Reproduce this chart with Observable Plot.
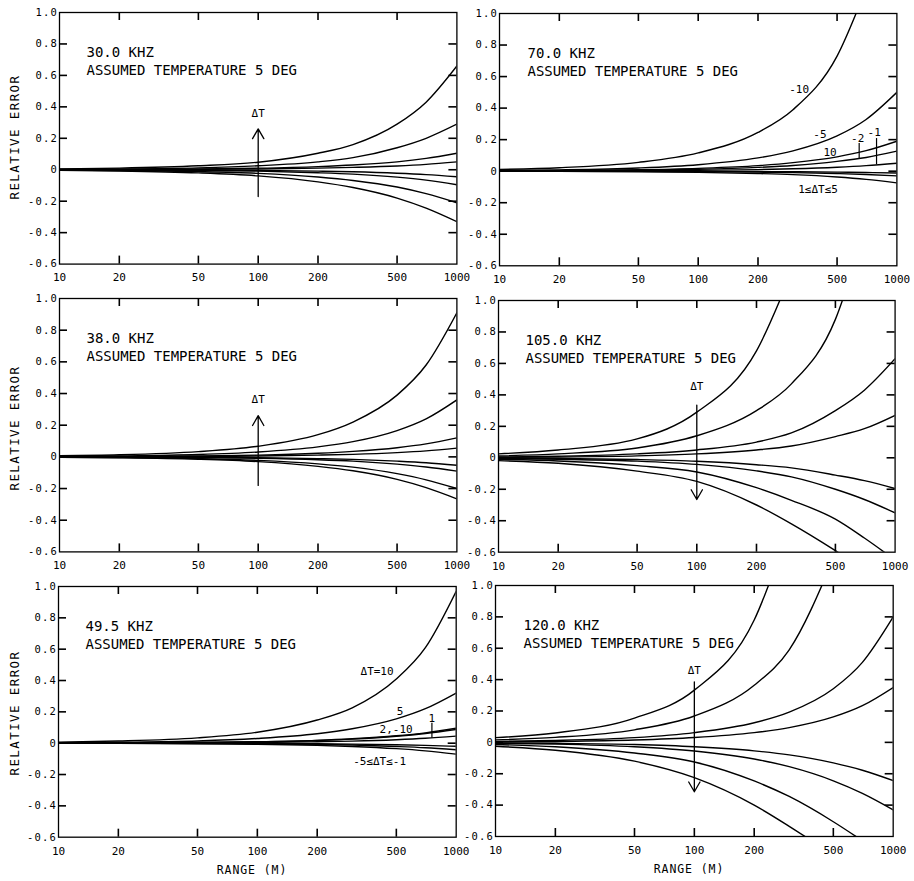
<!DOCTYPE html>
<html><head><meta charset="utf-8">
<script src="https://cdn.jsdelivr.net/npm/d3@7"></script>
<script src="https://cdn.jsdelivr.net/npm/@observablehq/plot@0.6"></script>
<style>
body{margin:0;background:#fff;}
#chart{position:relative;width:914px;height:881px;background:#fff;font-family:"DejaVu Sans Mono",monospace;color:#000;overflow:hidden;}
#chart svg{position:absolute;overflow:visible;}
g[aria-label="y-axis tick label"] text{letter-spacing:1.2px;}
g[aria-label="x label"] text{letter-spacing:0.8px;}
g[aria-label="title"] text{letter-spacing:0.8px;}
g[aria-label="note"] text{letter-spacing:0.3px;}
.lab{position:absolute;white-space:nowrap;transform:translate(-50%,-50%);}
.ylab{font-size:12.5px;letter-spacing:1.4px;transform:translate(-50%,-50%) rotate(-90deg);}
.xlab{font-size:11.5px;letter-spacing:0.9px;}
</style></head><body><div id="chart"></div>
<script>
// ---- shared axis values ----
const ranges = [10, 20, 50, 100, 200, 300, 500, 700, 1000];
const xTicks = [10, 20, 50, 100, 200, 500, 1000];
const yTicks = [-0.6, -0.4, -0.2, 0, 0.2, 0.4, 0.6, 0.8, 1.0];
const subtitle = "ASSUMED TEMPERATURE 5 DEG";
const yTitle = "RELATIVE ERROR";
const xTitle = "RANGE (M)";

// ---- 30.0 kHz ----
const dT30 = [10, 5, 2, 1, -1, -2, -5, -10];
const err30 = [
  [0.005, 0.01, 0.025, 0.048, 0.105, 0.16, 0.29, 0.43, 0.66],
  [0.003, 0.005, 0.012, 0.025, 0.05, 0.077, 0.14, 0.2, 0.29],
  [0.001, 0.002, 0.005, 0.01, 0.02, 0.03, 0.05, 0.072, 0.105],
  [0.0005, 0.001, 0.0025, 0.005, 0.01, 0.015, 0.024, 0.034, 0.05],
  [-0.0005, -0.001, -0.002, -0.0045, -0.009, -0.013, -0.022, -0.031, -0.045],
  [-0.001, -0.002, -0.005, -0.009, -0.019, -0.028, -0.047, -0.066, -0.095],
  [-0.002, -0.005, -0.012, -0.023, -0.046, -0.068, -0.11, -0.152, -0.21],
  [-0.004, -0.008, -0.02, -0.039, -0.077, -0.113, -0.18, -0.244, -0.33]
];
// ---- 38.0 kHz ----
const dT38 = [10, 5, 2, 1, -1, -2, -5, -10];
const err38 = [
  [0.007, 0.013, 0.033, 0.067, 0.14, 0.22, 0.39, 0.58, 0.91],
  [0.003, 0.006, 0.015, 0.031, 0.063, 0.096, 0.166, 0.24, 0.36],
  [0.001, 0.002, 0.006, 0.011, 0.023, 0.035, 0.058, 0.082, 0.12],
  [0.0005, 0.001, 0.003, 0.0055, 0.011, 0.016, 0.027, 0.038, 0.055],
  [-0.0005, -0.001, -0.003, -0.005, -0.011, -0.016, -0.027, -0.037, -0.053],
  [-0.001, -0.002, -0.005, -0.009, -0.018, -0.027, -0.046, -0.064, -0.09],
  [-0.002, -0.004, -0.011, -0.022, -0.044, -0.065, -0.106, -0.145, -0.2],
  [-0.003, -0.006, -0.015, -0.03, -0.06, -0.088, -0.142, -0.194, -0.265]
];
// ---- 49.5 kHz ----
const dT49 = [10, 5, 2, -10, 1, -1, -2, -5];
const err49 = [
  [0.007, 0.014, 0.034, 0.07, 0.148, 0.226, 0.41, 0.61, 0.97],
  [0.003, 0.006, 0.014, 0.03, 0.06, 0.092, 0.155, 0.22, 0.32],
  [0.001, 0.002, 0.005, 0.009, 0.018, 0.028, 0.047, 0.066, 0.095],
  [0.001, 0.002, 0.004, 0.008, 0.017, 0.026, 0.044, 0.062, 0.088],
  [0.0005, 0.001, 0.002, 0.004, 0.009, 0.013, 0.022, 0.031, 0.045],
  [-0.0002, -0.0004, -0.001, -0.002, -0.004, -0.006, -0.01, -0.014, -0.02],
  [-0.0004, -0.001, -0.002, -0.004, -0.008, -0.012, -0.021, -0.029, -0.042],
  [-0.001, -0.0015, -0.0035, -0.007, -0.014, -0.021, -0.035, -0.049, -0.07]
];
// ---- 70.0 kHz ----
const dT70 = [-10, -5, 10, -2, -1, 1, 2, 5];
const err70 = [
  [0.011, 0.022, 0.056, 0.116, 0.246, 0.39, 0.73, 1.16, null],
  [0.004, 0.008, 0.02, 0.041, 0.084, 0.129, 0.224, 0.328, 0.5],
  [0.002, 0.004, 0.009, 0.018, 0.035, 0.054, 0.091, 0.13, 0.19],
  [0.001, 0.002, 0.006, 0.012, 0.024, 0.036, 0.062, 0.087, 0.127],
  [0.0005, 0.001, 0.0025, 0.005, 0.01, 0.015, 0.025, 0.035, 0.05],
  [-0.0001, -0.0002, -0.0006, -0.0012, -0.0024, -0.0036, -0.006, -0.0084, -0.012],
  [-0.0003, -0.0006, -0.0015, -0.003, -0.006, -0.009, -0.015, -0.021, -0.03],
  [-0.0007, -0.0015, -0.0037, -0.0074, -0.015, -0.022, -0.037, -0.052, -0.074]
];
// ---- 105.0 kHz ----
const dT105 = [-10, -5, -2, -1, 1, 2, 5, 10];
const err105 = [
  [0.025, 0.05, 0.12, 0.29, 0.68, 1.18, null, null, null],
  [0.012, 0.025, 0.062, 0.14, 0.3, 0.47, 0.88, 1.45, null],
  [0.005, 0.01, 0.025, 0.05, 0.1, 0.158, 0.3, 0.43, 0.63],
  [0.002, 0.005, 0.012, 0.025, 0.05, 0.075, 0.135, 0.185, 0.27],
  [-0.002, -0.004, -0.011, -0.022, -0.044, -0.064, -0.11, -0.145, -0.195],
  [-0.004, -0.009, -0.021, -0.042, -0.083, -0.121, -0.2, -0.265, -0.35],
  [-0.01, -0.02, -0.05, -0.09, -0.19, -0.27, -0.39, -0.51, -0.65],
  [-0.018, -0.035, -0.085, -0.15, -0.3, -0.42, -0.59, -0.71, null]
];
// ---- 120.0 kHz ----
const dT120 = [-10, -5, -2, -1, 1, 2, 5, 10];
const err120 = [
  [0.03, 0.06, 0.155, 0.333, 0.78, 1.37, null, null, null],
  [0.016, 0.032, 0.08, 0.168, 0.364, 0.59, 1.17, null, null],
  [0.006, 0.012, 0.03, 0.062, 0.125, 0.193, 0.342, 0.51, 0.8],
  [0.003, 0.006, 0.015, 0.031, 0.062, 0.094, 0.162, 0.234, 0.35],
  [-0.003, -0.006, -0.014, -0.028, -0.054, -0.08, -0.131, -0.178, -0.244],
  [-0.006, -0.011, -0.028, -0.055, -0.106, -0.155, -0.245, -0.325, -0.43],
  [-0.014, -0.028, -0.068, -0.125, -0.246, -0.345, -0.506, -0.627, null],
  [-0.025, -0.05, -0.12, -0.225, -0.4, -0.535, -0.72, null, null]
];

// ---- annotations (data coordinates: range m, relative error) ----
const arrows30 = [{R: 100, from: -0.17, to: 0.26}];
const arrows38 = [{R: 100, from: -0.18, to: 0.26}];
const arrows105 = [{R: 100, from: 0.335, to: -0.265}];
const arrows120 = [{R: 100, from: 0.386, to: -0.315}];
const notes30 = [{R: 100, e: 0.36, text: "ΔT"}];
const notes38 = [{R: 100, e: 0.36, text: "ΔT"}];
const notes105 = [{R: 100, e: 0.456, text: "ΔT"}];
const notes120 = [{R: 100, e: 0.46, text: "ΔT"}];
const notes70 = [
  {R: 322, e: 0.52, text: "-10"},
  {R: 410, e: 0.235, text: "-5"},
  {R: 461, e: 0.12, text: "10"},
  {R: 635, e: 0.21, text: "-2"},
  {R: 769, e: 0.247, text: "-1"},
  {R: 401, e: -0.114, text: "1≤ΔT≤5"}
];
const pointers70 = [{R: 646, e1: 0.178, e2: 0.082}, {R: 790, e1: 0.21, e2: 0.044}];
const notes49 = [
  {R: 400, e: 0.455, text: "ΔT=10"},
  {R: 522, e: 0.2, text: "5"},
  {R: 499, e: 0.09, text: "2,-10"},
  {R: 755, e: 0.16, text: "1"},
  {R: 412, e: -0.115, text: "-5≤ΔT≤-1"}
];
const pointers49 = [{R: 755, e1: 0.13, e2: 0.035}];

// ---- layout (pixel frames of each panel) ----
const panels = [
  {freq: "30.0 KHZ", dT: dT30, err: err30, arrows: arrows30, notes: notes30, pointers: [], frame: [59.3, 456.7, 11.7, 263.3], ylab: 137, xlab: null, dx: 27},
  {freq: "70.0 KHZ", dT: dT70, err: err70, arrows: [], notes: notes70, pointers: pointers70, frame: [499.3, 896.7, 12.7, 265], ylab: null, xlab: null, dx: 28},
  {freq: "38.0 KHZ", dT: dT38, err: err38, arrows: arrows38, notes: notes38, pointers: [], frame: [59.3, 456.7, 298.3, 551.7], ylab: 427.5, xlab: null, dx: 27},
  {freq: "105.0 KHZ", dT: dT105, err: err105, arrows: arrows105, notes: notes105, pointers: [], frame: [497.7, 894.3, 300, 551.7], ylab: null, xlab: null, dx: 27},
  {freq: "49.5 KHZ", dT: dT49, err: err49, arrows: [], notes: notes49, pointers: pointers49, frame: [58.3, 456, 586, 836.7], ylab: 713, xlab: [252, 870], dx: 27},
  {freq: "120.0 KHZ", dT: dT120, err: err120, arrows: arrows120, notes: notes120, pointers: [], frame: [495, 892.7, 585, 836], ylab: null, xlab: [689, 869], dx: 28}
];

const fmtY = d => d === 0 ? "0" : d.toFixed(1);
const chart = document.getElementById("chart");
const M = {l: 50, r: 24, t: 12, b: 34};
const TK = 8; // inward tick length (px)
const Y0 = -0.6, Y1 = 1.0;

for (const p of panels) {
  const [fl, fr, ft, fb] = p.frame;
  const FW = fr - fl, FH = fb - ft;
  const rows = [];
  p.dT.forEach((t, i) => {
    p.err[i].forEach((v, j) => { if (v != null) rows.push({dT: t, R: ranges[j], e: v}); });
  });
  const innerX = xTicks.slice(1, -1);
  const innerY = yTicks.slice(1, -1);
  const svg = Plot.plot({
    width: FW + M.l + M.r,
    height: FH + M.t + M.b,
    marginLeft: M.l, marginRight: M.r, marginTop: M.t, marginBottom: M.b,
    style: {background: "transparent", fontFamily: "DejaVu Sans Mono, monospace", fontSize: "11px", color: "#000", overflow: "visible"},
    x: {type: "log", domain: [10, 1000], axis: null},
    y: {domain: [Y0, Y1], axis: null},
    marks: [
      Plot.frame({stroke: "#000", strokeWidth: 1.3, fill: "none"}),
      // inward ticks on all four sides
      Plot.tickX(innerX, {x: d => d, insetTop: FH - TK, stroke: "#000", strokeWidth: 1.6}),
      Plot.tickX(innerX, {x: d => d, insetBottom: FH - TK, stroke: "#000", strokeWidth: 1.6}),
      Plot.tickY(innerY, {y: d => d, insetRight: FW - TK, stroke: "#000", strokeWidth: 1.6}),
      Plot.tickY(innerY, {y: d => d, insetLeft: FW - TK, stroke: "#000", strokeWidth: 1.6}),
      // y tick labels
      Plot.axisY(yTicks, {anchor: "left", tickSize: 0, tickPadding: 1.5, tickFormat: fmtY, label: null, fontSize: 10.5}),
      // x tick labels
      Plot.text(xTicks, {x: d => d, frameAnchor: "bottom", dy: 9.5, lineAnchor: "top", text: d => String(d), fontSize: 11, ariaLabel: "x label", fill: "#000"}),
      Plot.line(rows, {x: "R", y: "e", z: "dT", curve: "monotone-x", stroke: "#000", strokeWidth: 1.4, clip: true}),
      Plot.arrow(p.arrows, {x1: "R", x2: "R", y1: "from", y2: "to", stroke: "#000", strokeWidth: 1.3, headLength: 13, headAngle: 60}),
      Plot.link(p.pointers, {x1: "R", x2: "R", y1: "e1", y2: "e2", stroke: "#000", strokeWidth: 1.2}),
      Plot.text(p.notes, {x: "R", y: "e", text: "text", fontSize: 11, ariaLabel: "note", fill: "#000"}),
      Plot.text([p.freq], {frameAnchor: "top-left", dx: p.dx, dy: 34.5, text: d => d, textAnchor: "start", fontSize: 14, ariaLabel: "title", fill: "#000"}),
      Plot.text([subtitle], {frameAnchor: "top-left", dx: p.dx, dy: 53, text: d => d, textAnchor: "start", fontSize: 14, ariaLabel: "title", fill: "#000"})
    ]
  });
  svg.style.left = (fl - M.l) + "px";
  svg.style.top = (ft - M.t) + "px";
  chart.appendChild(svg);
  if (p.ylab != null) {
    const d = document.createElement("div");
    d.className = "lab ylab";
    d.textContent = yTitle;
    d.style.left = "14px";
    d.style.top = p.ylab + "px";
    chart.appendChild(d);
  }
  if (p.xlab) {
    const d = document.createElement("div");
    d.className = "lab xlab";
    d.textContent = xTitle;
    d.style.left = p.xlab[0] + "px";
    d.style.top = p.xlab[1] + "px";
    chart.appendChild(d);
  }
}
</script></body></html>
